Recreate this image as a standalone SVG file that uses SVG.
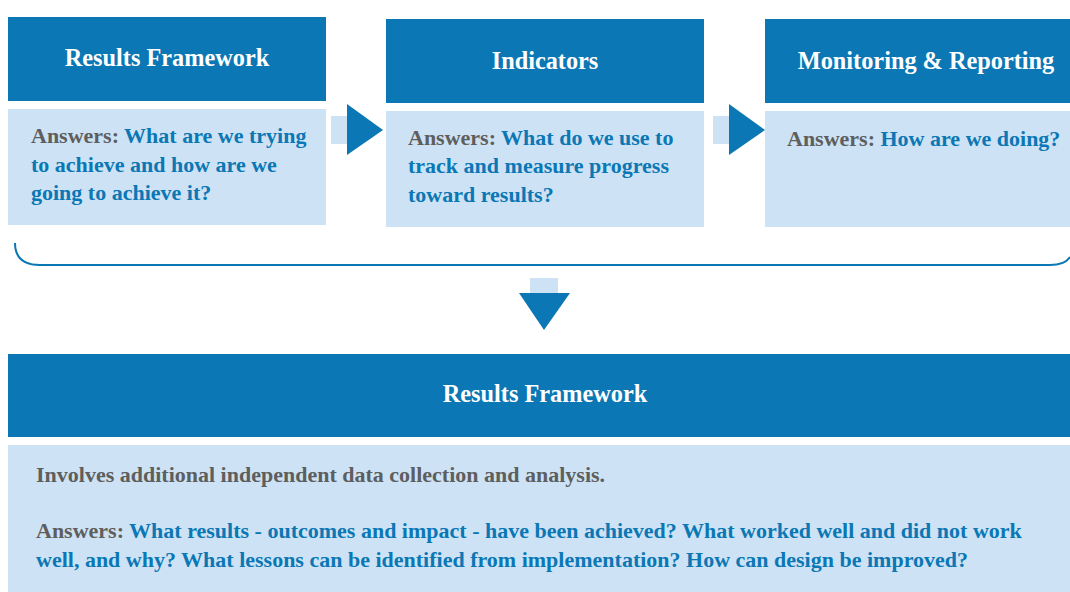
<svg xmlns="http://www.w3.org/2000/svg" width="1070" height="592" viewBox="0 0 1070 592">
<style>
.hdr{fill:#0b77b4}
.body{fill:#cde3f5}
.ttl{font-family:"Liberation Serif","DejaVu Serif",serif;font-weight:bold;font-size:24.3px;fill:#ffffff;text-anchor:middle}
.txt{font-family:"Liberation Serif","DejaVu Serif",serif;font-weight:bold;font-size:22px;fill:#0b77b4}
.g{fill:#5e5e5e}
.stem{fill:#cde3f5}
.tri{fill:#0b77b4}
</style>
<rect width="1070" height="592" fill="#ffffff"/>
<g id="node-results-framework">
<rect class="hdr" x="8" y="17" width="318" height="84"/>
<rect class="body" x="8" y="109" width="318" height="116"/>
<text class="ttl" x="167" y="66">Results Framework</text>
<text class="txt" x="31" y="143"><tspan class="g">Answers:</tspan> What are we trying</text>
<text class="txt" x="31" y="172">to achieve and how are we</text>
<text class="txt" x="31" y="200">going to achieve it?</text>
</g>
<g id="node-indicators">
<rect class="hdr" x="386" y="19" width="318" height="84"/>
<rect class="body" x="386" y="111" width="318" height="116"/>
<text class="ttl" x="545" y="69">Indicators</text>
<text class="txt" x="408" y="145"><tspan class="g">Answers:</tspan> What do we use to</text>
<text class="txt" x="408" y="173">track and measure progress</text>
<text class="txt" x="408" y="202">toward results?</text>
</g>
<g id="node-monitoring">
<rect class="hdr" x="765" y="19" width="305" height="84"/>
<rect class="body" x="765" y="111" width="305" height="116"/>
<text class="ttl" x="926" y="69">Monitoring &amp; Reporting</text>
<text class="txt" x="787" y="146"><tspan class="g">Answers:</tspan> How are we doing?</text>
</g>
<g id="node-evaluation">
<rect class="hdr" x="8" y="354" width="1062" height="83"/>
<rect class="body" x="8" y="445" width="1062" height="147"/>
<text class="ttl" x="545" y="402">Results Framework</text>
<text class="txt g" x="36" y="482">Involves additional independent data collection and analysis.</text>
<text class="txt" x="36" y="538"><tspan class="g">Answers:</tspan> What results - outcomes and impact - have been achieved? What worked well and did not work</text>
<text class="txt" x="36" y="567">well, and why? What lessons can be identified from implementation? How can design be improved?</text>
</g>
<g id="connectors">
<rect class="stem" x="331" y="116" width="17" height="28"/>
<polygon class="tri" points="347,104 383,130 347,155"/>
<rect class="stem" x="713" y="116" width="17" height="28"/>
<polygon class="tri" points="729,104 765,130 729,155"/>
<path d="M15,243 Q15,265 40,265 L1050,265 Q1065,265 1070,257" fill="none" stroke="#0b77b4" stroke-width="2"/>
<rect class="stem" x="530" y="278" width="28" height="16"/>
<polygon class="tri" points="519,293 570,293 544,330"/>
</g>
</svg>
